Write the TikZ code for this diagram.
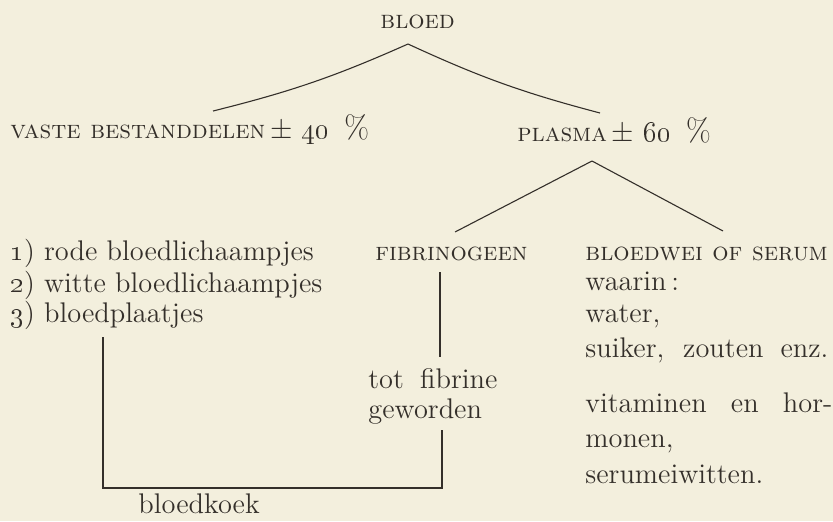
\documentclass[tikz,border=0pt]{standalone}
\usepackage{xcolor}
\usepackage{tikz}
\usetikzlibrary{calc}
\definecolor{papier}{RGB}{243,239,221}
\definecolor{inkt}{RGB}{52,47,42}
\newcommand{\kapje}[1]{{\fontsize{12.8}{15}\selectfont\scshape #1}}
\newcommand{\procent}{\hspace{3pt}{\fontsize{16}{17}\selectfont\%}}

\begin{document}
\begin{tikzpicture}[x=0.5pt, y=-0.5pt, every node/.style={inner sep=0pt, anchor=base west, text=inkt, font=\fontsize{14.2}{17}\selectfont}, lijn/.style={draw=inkt, line width=0.55pt}]
\fill[papier] (0,0) rectangle (833,521);
\useasboundingbox (0,0) rectangle (833,521);
% koppen
\node (bloed) at (380,28) {\kapje{bloed}};
\node (vaste) at (10,138) {\kapje{vaste bestanddelen}\,$\pm$ \oldstylenums{40} \procent};
\node (plasma) at (517,141) {\kapje{plasma}\,$\pm$ \oldstylenums{60} \procent};
\node (fibrinogeen) at (375,260) {\kapje{fibrinogeen}};
\node (serum) at (585,260) {\kapje{bloedwei of serum}};
% vaste bestanddelen
\node (rode) at (10,260) {\oldstylenums{1}) rode bloedlichaampjes};
\node (witte) at (10,292) {\oldstylenums{2}) witte bloedlichaampjes};
\node (plaatjes) at (10,322) {\oldstylenums{3}) bloedplaatjes};
\node (fibrine) at (368,388) {\makebox[64.5pt][s]{tot fibrine}};
\node (geworden) at (368,418) {geworden};
\node (koek) at (138,513) {bloedkoek};
% serum
\node (waarin) at (585,290) {waarin\,:};
\node (water) at (585,322) {water,};
\node (suiker) at (585,357) {\makebox[121.5pt][s]{suiker, zouten enz.}};
\node (vitaminen) at (585,412) {\makebox[123.5pt][s]{vitaminen en hor-}};
\node (monen) at (585,447) {monen,};
\node (eiwit) at (585,483) {serumeiwitten.};
% lijnen
\draw[lijn] ($(bloed.base west)+(28,16)$) to[bend left=5] ($(vaste.base west)+(203,-27)$);
\draw[lijn] ($(bloed.base west)+(28,16)$) to[bend right=5] ($(plasma.base west)+(83,-28)$);
\draw[lijn] ($(plasma.base west)+(75,20)$) -- ($(fibrinogeen.base west)+(80,-28)$);
\draw[lijn] ($(plasma.base west)+(75,20)$) -- ($(serum.base west)+(138,-29)$);
\draw[lijn] ($(fibrinogeen.base west)+(65,12)$) -- ($(fibrine.base west)+(72,-31)$);
\draw[lijn] ($(geworden.base west)+(74,12)$) |- ($(koek.base west)+(-35,-25)$) -- ($(plaatjes.base west)+(93,15)$);
\end{tikzpicture}
\end{document}
